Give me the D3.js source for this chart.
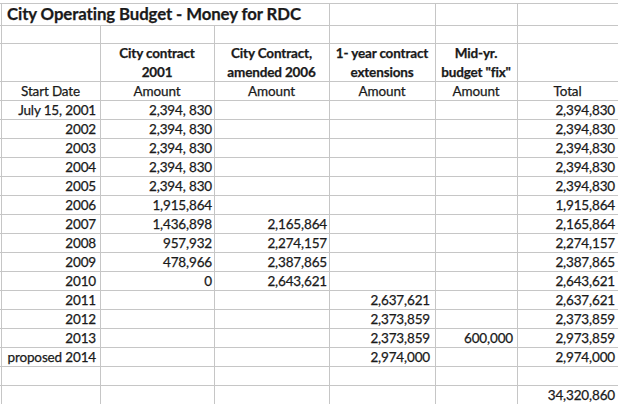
<!DOCTYPE html>
<html><head><meta charset="utf-8">
<script src="https://cdn.jsdelivr.net/npm/d3@7"></script>
<style>
html,body{margin:0;padding:0;background:#fff;}
svg{display:block;}
text{font-family:Lato,"Open Sans",sans-serif;fill:#1a1a1a;stroke:#1a1a1a;stroke-width:0.25px;letter-spacing:-0.15px;font-variant-ligatures:none;}
</style></head>
<body><svg id="c" width="618" height="404"></svg>
<script>
// ---- data ----
const title = "City Operating Budget - Money for RDC";
const columnHeads = [[""], ["City contract","2001"], ["City Contract,","amended 2006"], ["1- year contract","extensions"], ["Mid-yr.","budget \"fix\""], [""]];
const subHeads = ["Start Date","Amount","Amount","Amount","Amount","Total"];
const startDates = ["July 15, 2001","2002","2003","2004","2005","2006","2007","2008","2009","2010","2011","2012","2013","proposed 2014"];
const contract2001 = [2394830,2394830,2394830,2394830,2394830,1915864,1436898,957932,478966,0,null,null,null,null];
const contract2001Spaced = [true,true,true,true,true,false,false,false,false,false,false,false,false,false];
const contractAmended2006 = [null,null,null,null,null,null,2165864,2274157,2387865,2643621,null,null,null,null];
const extensions = [null,null,null,null,null,null,null,null,null,null,2637621,2373859,2373859,2974000];
const midYearFix = [null,null,null,null,null,null,null,null,null,null,null,null,600000,null];
const totals = [2394830,2394830,2394830,2394830,2394830,1915864,2165864,2274157,2387865,2643621,2637621,2373859,2973859,2974000];

// ---- layout ----
const W = 618, H = 404;
const colEdges = [1, 100, 214, 329, 435, 517, 640];
const textRight = [96, 212, 327, 430, 513, 615];
const headLines = [3, 25, 43, 81];
const FS = 13.5;
const svg = d3.select("#c");
const fmt = d3.format(",");
const fmtSpaced = v => fmt(v).replace(/,(\d{3})$/, ", $1");

const nRows = startDates.length + 2; // data rows + blank + grand total
const y = d3.scaleBand().domain(d3.range(nRows)).range([100, 100 + 19 * nRows]).paddingInner(0).paddingOuter(0);

// grid
const grid = svg.append("g").attr("stroke", "#c6c6c6").attr("stroke-width", 1).attr("shape-rendering","crispEdges");
const hLines = headLines.concat(d3.range(nRows + 1).map(i => y(0) + i * y.bandwidth()));
hLines.forEach(v => grid.append("line").attr("x1", 0).attr("x2", W).attr("y1", v + 0.5).attr("y2", v + 0.5));
colEdges.forEach((x, i) => {
  const top = (i >= 1 && i <= 2) ? 25 : 3;
  grid.append("line").attr("x1", x + 0.5).attr("x2", x + 0.5).attr("y1", top).attr("y2", H);
});

// title
svg.append("text").attr("x", 7).attr("y", 20).attr("font-weight", "bold").attr("font-size", 16.8)
  .style("letter-spacing", "-0.1px").text(title);

// column headers
columnHeads.forEach((lines, i) => {
  const cx = (colEdges[i] + Math.min(colEdges[i + 1], W)) / 2;
  lines.forEach((t, j) => {
    svg.append("text").attr("x", cx).attr("y", 58 + j * 18.5).attr("text-anchor", "middle")
      .attr("font-weight", "bold").attr("font-size", FS).text(t);
  });
});
subHeads.forEach((t, i) => {
  const cx = (colEdges[i] + Math.min(colEdges[i + 1], W)) / 2;
  svg.append("text").attr("x", cx).attr("y", 96).attr("text-anchor", "middle").attr("font-size", FS).text(t);
});

// body
const cols = [
  startDates.map(d => d),
  contract2001.map((v, i) => v == null ? "" : (contract2001Spaced[i] ? fmtSpaced(v) : fmt(v))),
  contractAmended2006.map(v => v == null ? "" : fmt(v)),
  extensions.map(v => v == null ? "" : fmt(v)),
  midYearFix.map(v => v == null ? "" : fmt(v)),
  totals.map(v => fmt(v))
];
cols.forEach((col, c) => {
  svg.append("g").selectAll("text").data(col).join("text")
    .attr("x", textRight[c]).attr("y", (d, i) => y(i) + 14.5)
    .attr("text-anchor", "end").attr("font-size", FS).text(d => d);
});
// grand total
svg.append("text").attr("x", textRight[5]).attr("y", y(nRows - 1) + 14.5)
  .attr("text-anchor", "end").attr("font-size", FS).text(fmt(d3.sum(totals)));
</script></body></html>
